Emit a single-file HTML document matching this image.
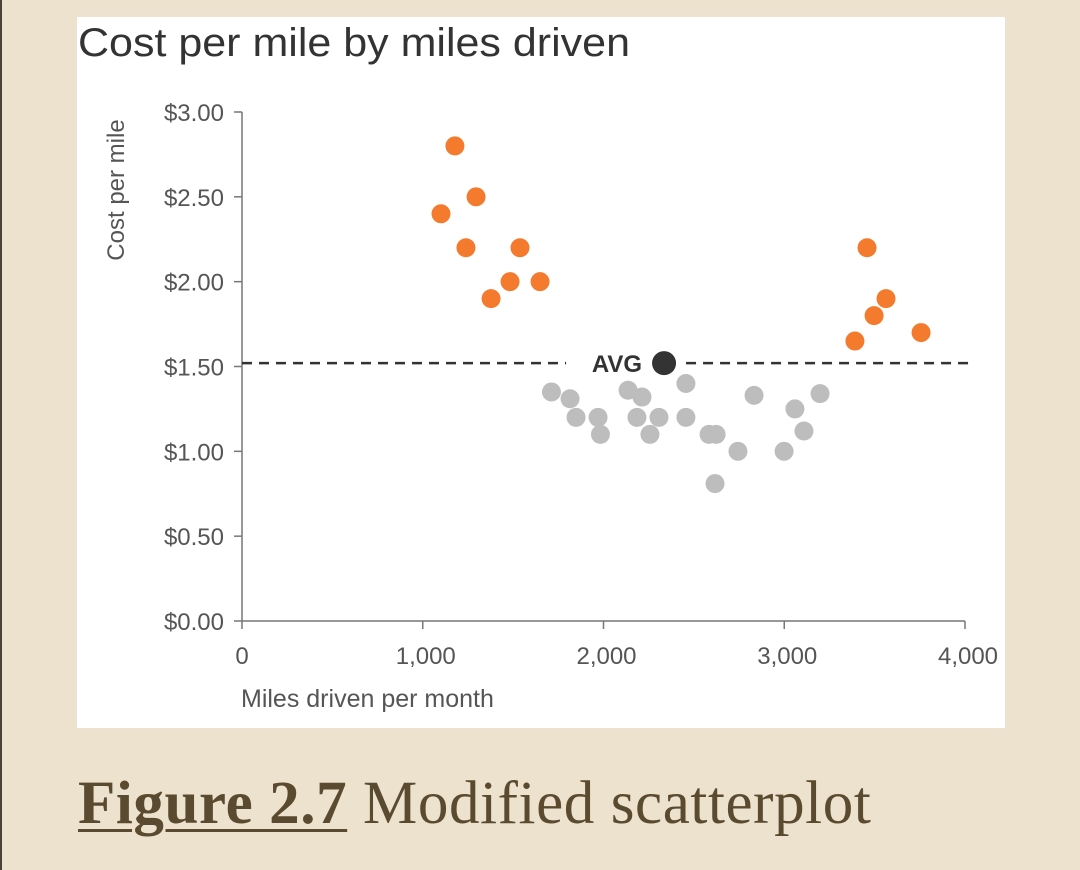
<!DOCTYPE html>
<html><head><meta charset="utf-8"><style>
html,body{margin:0;padding:0;background:#ece2cd;width:1080px;height:870px;overflow:hidden}
#edge{position:absolute;left:0;top:0;width:2px;height:870px;background:#4a4438}
#panel{position:absolute;left:77px;top:17px;width:928px;height:711px;background:#fff}
#cap{position:absolute;left:78px;top:769px;font-family:"Liberation Serif",serif;font-size:61px;color:#5a4a30;letter-spacing:0.6px}
#cap b{text-decoration:underline;text-decoration-thickness:3px;text-underline-offset:6px}
svg{position:absolute;left:0;top:0}
</style></head><body>
<div id="edge"></div>
<div id="panel"></div>
<svg id="chart" width="1080" height="870" font-family="Liberation Sans, sans-serif">
<text x="78" y="56" font-size="40" textLength="552" lengthAdjust="spacingAndGlyphs" fill="#333">Cost per mile by miles driven</text>
<text transform="translate(124,190) rotate(-90)" text-anchor="middle" font-size="24" fill="#555">Cost per mile</text>
<text x="241" y="707" font-size="25" fill="#555">Miles driven per month</text>
</svg>
<div id="cap"><b>Figure 2.7</b> Modified scatterplot</div>
<script>
const xTicks=[0,1000,2000,3000,4000];
const xTickLabels=["0","1,000","2,000","3,000","4,000"];
const yTicks=[0,0.5,1,1.5,2,2.5,3];
const yTickLabels=["$0.00","$0.50","$1.00","$1.50","$2.00","$2.50","$3.00"];
const orangeMiles=[1101,1178,1295,1239,1378,1483,1538,1649,3458,3391,3497,3563,3757];
const orangeCost=[2.40,2.80,2.50,2.20,1.90,2.00,2.20,2.00,2.20,1.65,1.80,1.90,1.70];
const grayMiles=[1712,1815,1848,1970,1983,2136,2213,2185,2307,2257,2456,2456,2584,2623,2744,2617,2833,2999,3059,3109,3198];
const grayCost=[1.35,1.31,1.20,1.20,1.10,1.36,1.32,1.20,1.20,1.10,1.40,1.20,1.10,1.10,1.00,0.81,1.33,1.00,1.25,1.12,1.34];
const avgMiles=[2335];
const avgCost=[1.52];
const NS="http://www.w3.org/2000/svg";
const svg=document.getElementById('chart');
const X0=242,X1=965,Y0=621,Y1=112;
const xs=v=>X0+(v/4000)*(X1-X0);
const ys=v=>Y0-(v/3)*(Y0-Y1);
function mk(t,a){const e=document.createElementNS(NS,t);for(const k in a)e.setAttribute(k,a[k]);svg.appendChild(e);return e;}
let e=mk('line',{x1:X0,y1:Y1,x2:X0,y2:Y0,stroke:'#777','stroke-width':1.5});


e=mk('line',{x1:X0,y1:Y0,x2:X1,y2:Y0,stroke:'#777','stroke-width':1.5});


yTicks.forEach((v,i)=>{
 let t=mk('line',{x1:X0-8,y1:ys(v),x2:X0,y2:ys(v),stroke:'#777','stroke-width':1.5});
 
 
 let l=mk('text',{x:224,y:ys(v)+9,'text-anchor':'end','font-size':24,fill:'#555'});
 l.textContent=yTickLabels[i];
 
 
});
xTicks.forEach((v,i)=>{
 let t=mk('line',{x1:xs(v),y1:Y0,x2:xs(v),y2:Y0+8,stroke:'#777','stroke-width':1.5});
 
 
 let l=mk('text',{x:xs(v)+(i===0?0:3),y:664,'text-anchor':'middle','font-size':24,fill:'#555'});
 l.textContent=xTickLabels[i];
 
 
});
const ay=ys(avgCost[0]), ax=xs(avgMiles[0]);
e=mk('line',{x1:X0,y1:ay,x2:ax-98,y2:ay,stroke:'#333','stroke-width':2.5,'stroke-dasharray':'10 7'});


e=mk('line',{x1:ax+22,y1:ay,x2:972,y2:ay,stroke:'#333','stroke-width':2.5,'stroke-dasharray':'10 7'});


grayMiles.forEach((m,i)=>{
 let c=mk('circle',{cx:xs(m),cy:ys(grayCost[i]),r:9.5,fill:'#bdbdbd'});
 
 
});
orangeMiles.forEach((m,i)=>{
 let c=mk('circle',{cx:xs(m),cy:ys(orangeCost[i]),r:9.5,fill:'#f47b2e'});
 
 
});
e=mk('circle',{cx:ax,cy:ay,r:12,fill:'#333'});


e=mk('text',{x:ax-22,y:ay+9,'text-anchor':'end','font-size':24,'font-weight':'bold',fill:'#333'});
e.textContent='AVG';


</script>
</body></html>
